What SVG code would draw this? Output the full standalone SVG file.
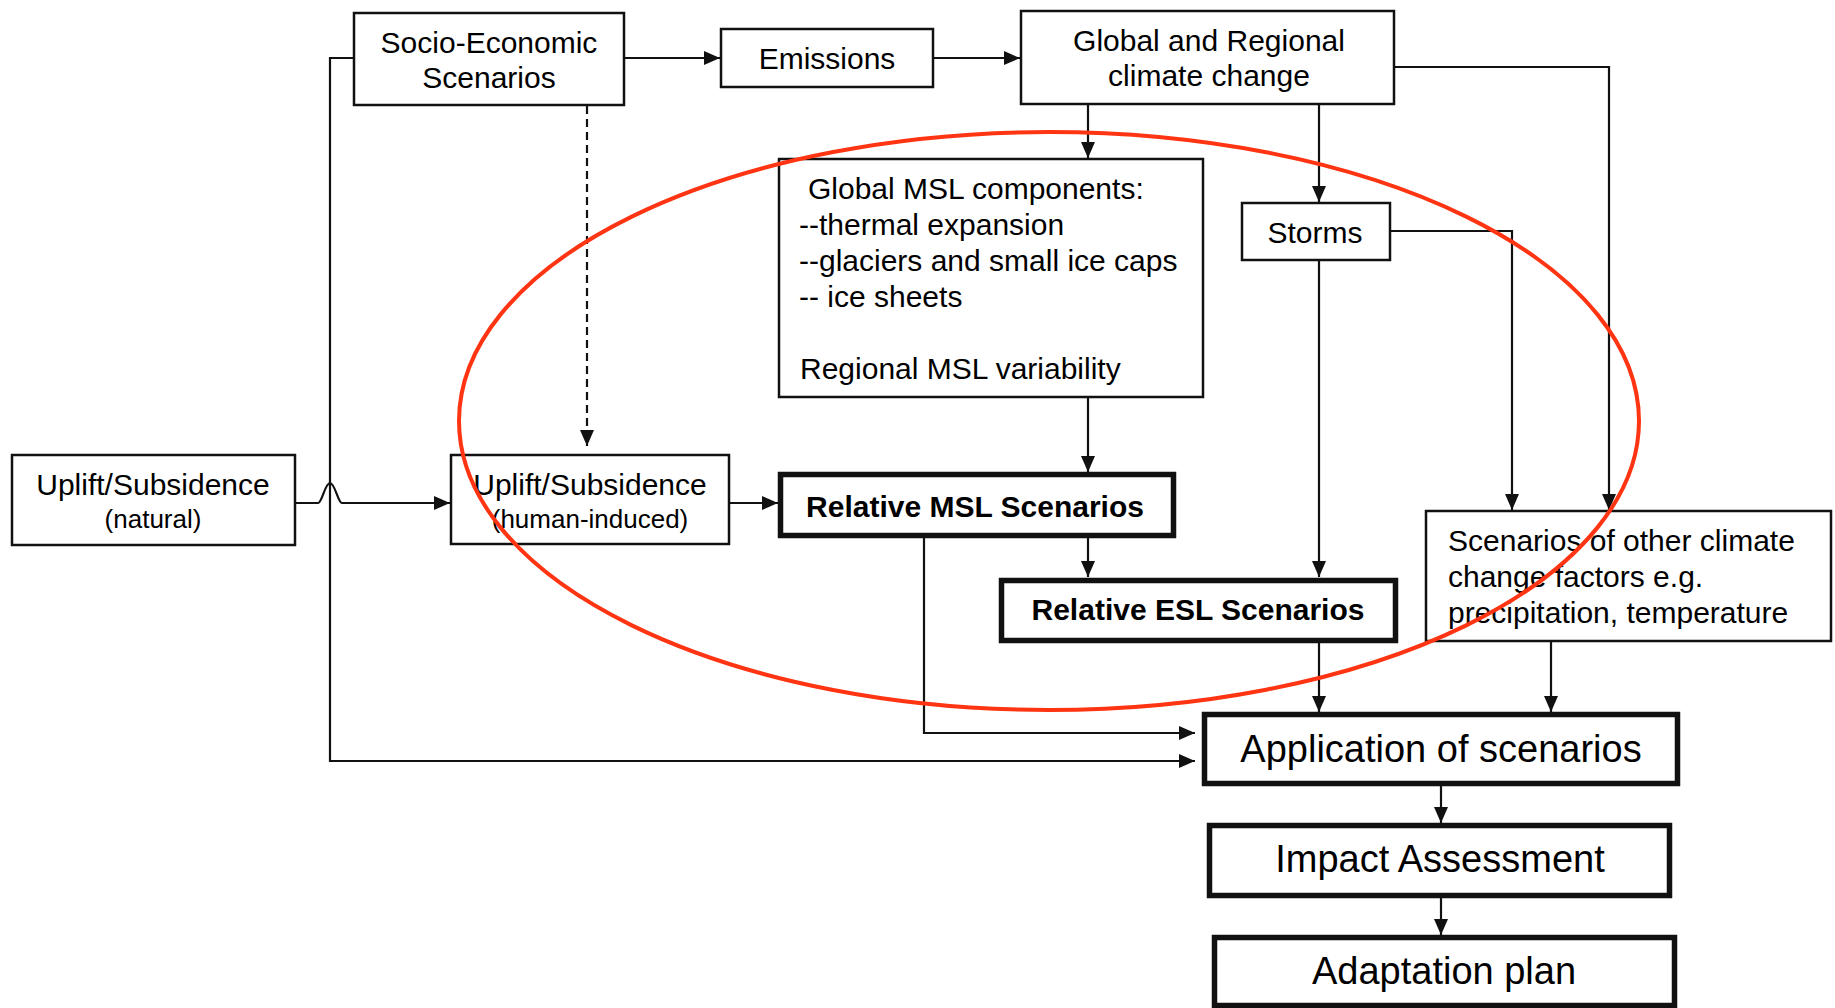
<svg xmlns="http://www.w3.org/2000/svg" width="1835" height="1008" viewBox="0 0 1835 1008">
<style>
.box{fill:#fff;stroke:#111;stroke-width:2.5}
.thick{fill:#fff;stroke:#111;stroke-width:5.5}
.t{font-family:"Liberation Sans",Arial,sans-serif;font-size:30px;fill:#000}
.s{font-size:26px}
.b{font-weight:bold}
.l{font-size:38px}
.c{fill:none;stroke:#111;stroke-width:2.2}
</style>
<defs>
<marker id="ah" viewBox="0 0 16 14" refX="16" refY="7" markerWidth="16" markerHeight="14" markerUnits="userSpaceOnUse" orient="auto">
<path d="M0,0 L16,7 L0,14 z" fill="#111"/>
</marker>
</defs>
<rect width="1835" height="1008" fill="#fff"/>
<g id="connectors">
<path class="c" d="M625,58 H720" marker-end="url(#ah)"/>
<path class="c" d="M934,58 H1020" marker-end="url(#ah)"/>
<path class="c" d="M1088,104 V158" marker-end="url(#ah)"/>
<path class="c" d="M1319,104 V202" marker-end="url(#ah)"/>
<path class="c" d="M1395,67 H1609 V510" marker-end="url(#ah)"/>
<path class="c" d="M1390,231 H1512 V510" marker-end="url(#ah)"/>
<path class="c" d="M1319,261 V577" marker-end="url(#ah)"/>
<path class="c" d="M1088,398 V472" marker-end="url(#ah)"/>
<path class="c" d="M1088,538 V577" marker-end="url(#ah)"/>
<path class="c" d="M587,106 V446" stroke-dasharray="8,5" marker-end="url(#ah)"/>
<path class="c" d="M296,503 H318 C322,503 325,483 330,483 C335,483 338,503 342,503 H450" marker-end="url(#ah)"/>
<path class="c" d="M730,503 H778" marker-end="url(#ah)"/>
<path class="c" d="M924,538 V733 H1195" marker-end="url(#ah)"/>
<path class="c" d="M353,58 H330 V761 H1195" marker-end="url(#ah)"/>
<path class="c" d="M1319,642 V712" marker-end="url(#ah)"/>
<path class="c" d="M1551,642 V712" marker-end="url(#ah)"/>
<path class="c" d="M1441,786 V823" marker-end="url(#ah)"/>
<path class="c" d="M1441,898 V935" marker-end="url(#ah)"/>
</g>
<g id="socio">
<rect class="box" x="354" y="13" width="270" height="92"/>
<text class="t" x="489" y="53" text-anchor="middle">Socio-Economic</text>
<text class="t" x="489" y="88" text-anchor="middle">Scenarios</text>
</g>
<g id="emissions">
<rect class="box" x="721" y="29" width="212" height="58"/>
<text class="t" x="827" y="69" text-anchor="middle">Emissions</text>
</g>
<g id="global">
<rect class="box" x="1021" y="11" width="373" height="93"/>
<text class="t" x="1209" y="51" text-anchor="middle">Global and Regional</text>
<text class="t" x="1209" y="86" text-anchor="middle">climate change</text>
</g>
<g id="globalmsl">
<rect class="box" x="779" y="159" width="424" height="238"/>
<text class="t" x="808" y="199">Global MSL components:</text>
<text class="t" x="799" y="235">--thermal expansion</text>
<text class="t" x="799" y="271">--glaciers and small ice caps</text>
<text class="t" x="799" y="307">-- ice sheets</text>
<text class="t" x="800" y="379">Regional MSL variability</text>
</g>
<g id="storms">
<rect class="box" x="1242" y="203" width="148" height="57"/>
<text class="t" x="1315" y="243" text-anchor="middle">Storms</text>
</g>
<g id="natural">
<rect class="box" x="12" y="455" width="283" height="90"/>
<text class="t" x="153" y="495" text-anchor="middle">Uplift/Subsidence</text>
<text class="t s" x="153" y="528" text-anchor="middle">(natural)</text>
</g>
<g id="human">
<rect class="box" x="451" y="455" width="278" height="89"/>
<text class="t" x="590" y="495" text-anchor="middle">Uplift/Subsidence</text>
<text class="t s" x="590" y="528" text-anchor="middle">(human-induced)</text>
</g>
<g id="relmsl">
<rect class="thick" x="780.5" y="474.5" width="393" height="61"/>
<text class="t b" x="975" y="517" text-anchor="middle">Relative MSL Scenarios</text>
</g>
<g id="relesl">
<rect class="thick" x="1001.5" y="580.5" width="394" height="60"/>
<text class="t b" x="1198" y="620" text-anchor="middle">Relative ESL Scenarios</text>
</g>
<g id="other">
<rect class="box" x="1426" y="511" width="405" height="130"/>
<text class="t" x="1448" y="551">Scenarios of other climate</text>
<text class="t" x="1448" y="587">change factors e.g.</text>
<text class="t" x="1448" y="623">precipitation, temperature</text>
</g>
<g id="application">
<rect class="thick" x="1204.5" y="714.5" width="473" height="69"/>
<text class="t l" x="1441" y="762" text-anchor="middle">Application of scenarios</text>
</g>
<g id="impact">
<rect class="thick" x="1209.5" y="825.5" width="460" height="70"/>
<text class="t l" x="1440" y="872" text-anchor="middle">Impact Assessment</text>
</g>
<g id="adaptation">
<rect class="thick" x="1214.5" y="937.5" width="460" height="68"/>
<text class="t l" x="1444" y="984" text-anchor="middle">Adaptation plan</text>
</g>
<ellipse id="highlight" cx="1049" cy="421" rx="590" ry="289" fill="none" stroke="#ff3412" stroke-width="4"/>
</svg>
